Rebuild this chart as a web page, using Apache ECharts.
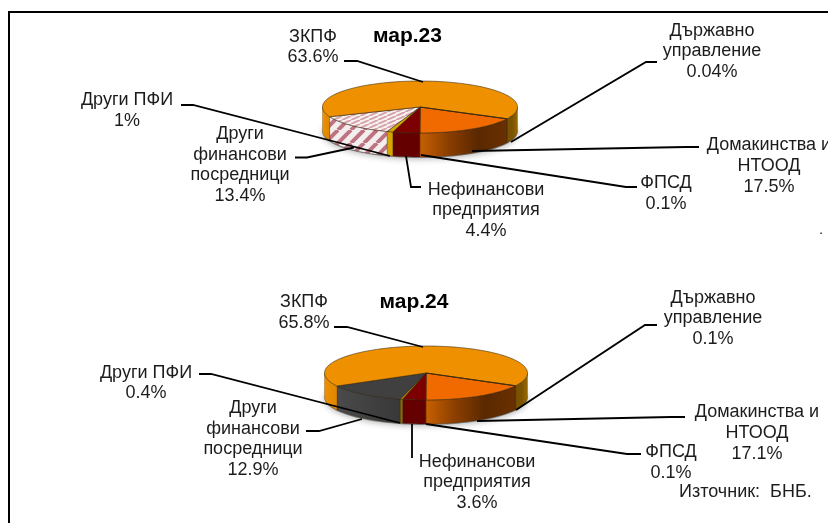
<!DOCTYPE html>
<html><head><meta charset="utf-8">
<style>html,body{margin:0;padding:0;background:#fff}#c{width:828px;height:523px}</style>
<script src="https://cdn.jsdelivr.net/npm/echarts@6/dist/echarts.min.js"></script>
</head><body><div id="c"></div>
<script>
// ---------- data ----------
const categories = ['Домакинства и\nНТООД','ФПСД','Нефинансови\nпредприятия','Други ПФИ','Други\nфинансови\nпосредници','ЗКПФ','Държавно\nуправление'];
const values23 = [17.5,0.1,4.4,1,13.4,63.6,0.04];
const values24 = [17.1,0.1,3.6,0.4,12.9,65.8,0.1];
const title23 = 'мар.23';
const title24 = 'мар.24';
const source = 'Източник:  БНБ.';

// ---------- layout & style ----------
const FONT = '"Liberation Sans", Arial, sans-serif';
const geom23 = {cx:420,cy:107,rx:97.5,ry:26,d:24};
const geom24 = {cx:426,cy:373,rx:101.5,ry:27,d:24};
const labels23 = [[769,166],[666,193.5],[486,210.5],[127,110.5],[240,165],[313,47],[712,51.5]];
const labels24 = [[757,433],[671,462.5],[477,482.5],[146,383],[253,439],[304,312.5],[713,318.5]];
const leaders23 = [
 [[472,151],[686,147],[699,147]],
 [[421,155],[626,187],[637,187]],
 [[406,156],[411,187],[421,187]],
 [[390,156],[193,105],[181,105]],
 [[354,147.5],[307,157.5],[295,157.5]],
 [[423,82],[357,61],[344,61]],
 [[511,142],[646,62],[657,62]]];
const leaders24 = [
 [[477,421],[671,417],[685,417]],
 [[426,424],[627,454],[641,454]],
 [[412,424],[412,458]],
 [[400,423],[211,374],[199,374]],
 [[362,419],[319,431],[306,431]],
 [[423,347],[347,327],[334,327]],
 [[516,410],[645,325],[657,325]]];

function hatch(size, stripe, bg, w, ratio){
  const c=document.createElement('canvas');c.width=size;c.height=Math.round(size/ratio);
  const g=c.getContext('2d');g.fillStyle=bg;g.fillRect(0,0,c.width,c.height);
  g.strokeStyle=stripe;g.lineWidth=w;
  for(let i=-1;i<=1;i++){g.beginPath();g.moveTo(i*c.width,c.height);g.lineTo((i+1)*c.width,0);g.stroke();}
  return {image:c,repeat:'repeat'};
}
const hatchTop=hatch(9,'#d6a3aa','#f8f1f1',2,2.2);
const hatchWall=hatch(13,'#bf7380','#f3efef',4,1);
const lin=(...s)=>({type:'linear',x:0,y:0,x2:1,y2:0,colorStops:s.map((c,i)=>({offset:i/(s.length-1),color:c}))});

const tops23=['#f06a00','#8a2a00','#7c0000','#d8a400',hatchTop,'#ee9000','#8a5c00'];
const tops24=['#f06a00','#8a2a00','#7c0000','#b88a00','#404040','#ee9000','#8a5c00'];
const walls23=[lin('#c86000','#8a3e00','#5a2800','#6a3000'),'#5a1c00','#640000','#d8a400',hatchWall,null,'#6a4800'];
const walls24=[lin('#c86000','#8a3e00','#5a2800','#6a3000'),'#5a1c00','#640000','#8a6a00',lin('#4a4a4a','#383838'),null,'#6a4800'];

function arc(g,a0,a1,dy){
  const n=Math.max(2,Math.ceil(Math.abs(a1-a0)/2)),p=[];
  for(let i=0;i<=n;i++){const a=(a0+(a1-a0)*i/n)*Math.PI/180;
    p.push([g.cx+g.rx*Math.sin(a),g.cy-g.ry*Math.cos(a)+dy]);}
  return p;
}
function sliceRenderer(values,g,tops,walls){
  const total=values.reduce((a,b)=>a+b,0);
  const start=180-values[0]/total*360;
  const angles=[];let acc=start;
  values.forEach(v=>{angles.push(acc);acc+=v/total*360;});
  return function(params,api){
    const i=params.dataIndex, a0=angles[i], a1=a0+api.value(0)/total*360, kids=[];
    if(i===0){
      kids.push({type:'polygon',z2:0,shape:{points:arc(g,0,360,g.d+1)},
        style:{fill:'rgba(70,70,70,0.55)',shadowBlur:6,shadowColor:'rgba(0,0,0,0.55)',shadowOffsetY:1}});
    }
    [[90,270],[450,630]].forEach(([w0,w1])=>{
      const s=Math.max(a0,w0),e=Math.min(a1,w1);
      if(e<=s) return;
      let fill=walls[i];
      if(fill===null) fill = w0===450 ? lin('#7a5200','#7a5200','#9a6a00') : lin('#f09000','#dd8600');
      kids.push({type:'polygon',z2:1,shape:{points:arc(g,s,e,0).concat(arc(g,e,s,g.d))},
        style:{fill:fill,stroke:'rgba(50,30,0,0.5)',lineWidth:0.5}});
    });
    kids.push({type:'polygon',z2:2,shape:{points:[[g.cx,g.cy]].concat(arc(g,a0,a1,0))},
      style:{fill:tops[i],stroke:'rgba(50,40,20,0.8)',lineWidth:0.7}});
    return {type:'group',children:kids};
  };
}
function labelRenderer(names,pos,leaders){
  return function(params,api){
    const i=params.dataIndex, v=api.value(0);
    return {type:'group',children:[
      {type:'polyline',z2:5,shape:{points:leaders[i]},style:{fill:null,stroke:'#000',lineWidth:1.8}},
      {type:'text',z2:6,x:pos[i][0],y:pos[i][1],style:{text:names[i]+'\n'+v+'%',fill:'#1c1c1c',
        font:'18px '+FONT,lineHeight:20.7,align:'center',verticalAlign:'middle'}}
    ]};
  };
}
const rows=a=>a.map(v=>[v]);
const cust=(d,r,z)=>({type:'custom',coordinateSystem:'none',silent:true,animation:false,clip:false,z:z,data:rows(d),renderItem:r});

const chart=echarts.init(document.getElementById('c'),null,{renderer:'canvas'});
chart.setOption({
  animation:false,
  backgroundColor:'#fff',
  tooltip:{show:false},
  title:[
    {text:title23,left:407.5,top:36,padding:0,textAlign:'center',textVerticalAlign:'middle',textStyle:{fontFamily:FONT,fontSize:21,fontWeight:'bold',color:'#000'}},
    {text:title24,left:414,top:302,padding:0,textAlign:'center',textVerticalAlign:'middle',textStyle:{fontFamily:FONT,fontSize:21,fontWeight:'bold',color:'#000'}}
  ],
  graphic:[
    {type:'line',silent:true,shape:{x1:9,y1:12,x2:828,y2:12},style:{stroke:'#000',lineWidth:2}},
    {type:'line',silent:true,shape:{x1:9,y1:11,x2:9,y2:523},style:{stroke:'#000',lineWidth:2}},
    {type:'text',silent:true,x:679,y:492,style:{text:source,fill:'#1c1c1c',font:'18px '+FONT,verticalAlign:'middle'}},
    {type:'text',silent:true,x:821,y:230,style:{text:'.',fill:'#1c1c1c',font:'15px '+FONT,align:'center',verticalAlign:'middle'}}
  ],
  series:[
    cust(values23,sliceRenderer(values23,geom23,tops23,walls23),2),
    cust(values24,sliceRenderer(values24,geom24,tops24,walls24),2),
    cust(values23,labelRenderer(categories,labels23,leaders23),3),
    cust(values24,labelRenderer(categories,labels24,leaders24),3)
  ]
});
</script></body></html>
